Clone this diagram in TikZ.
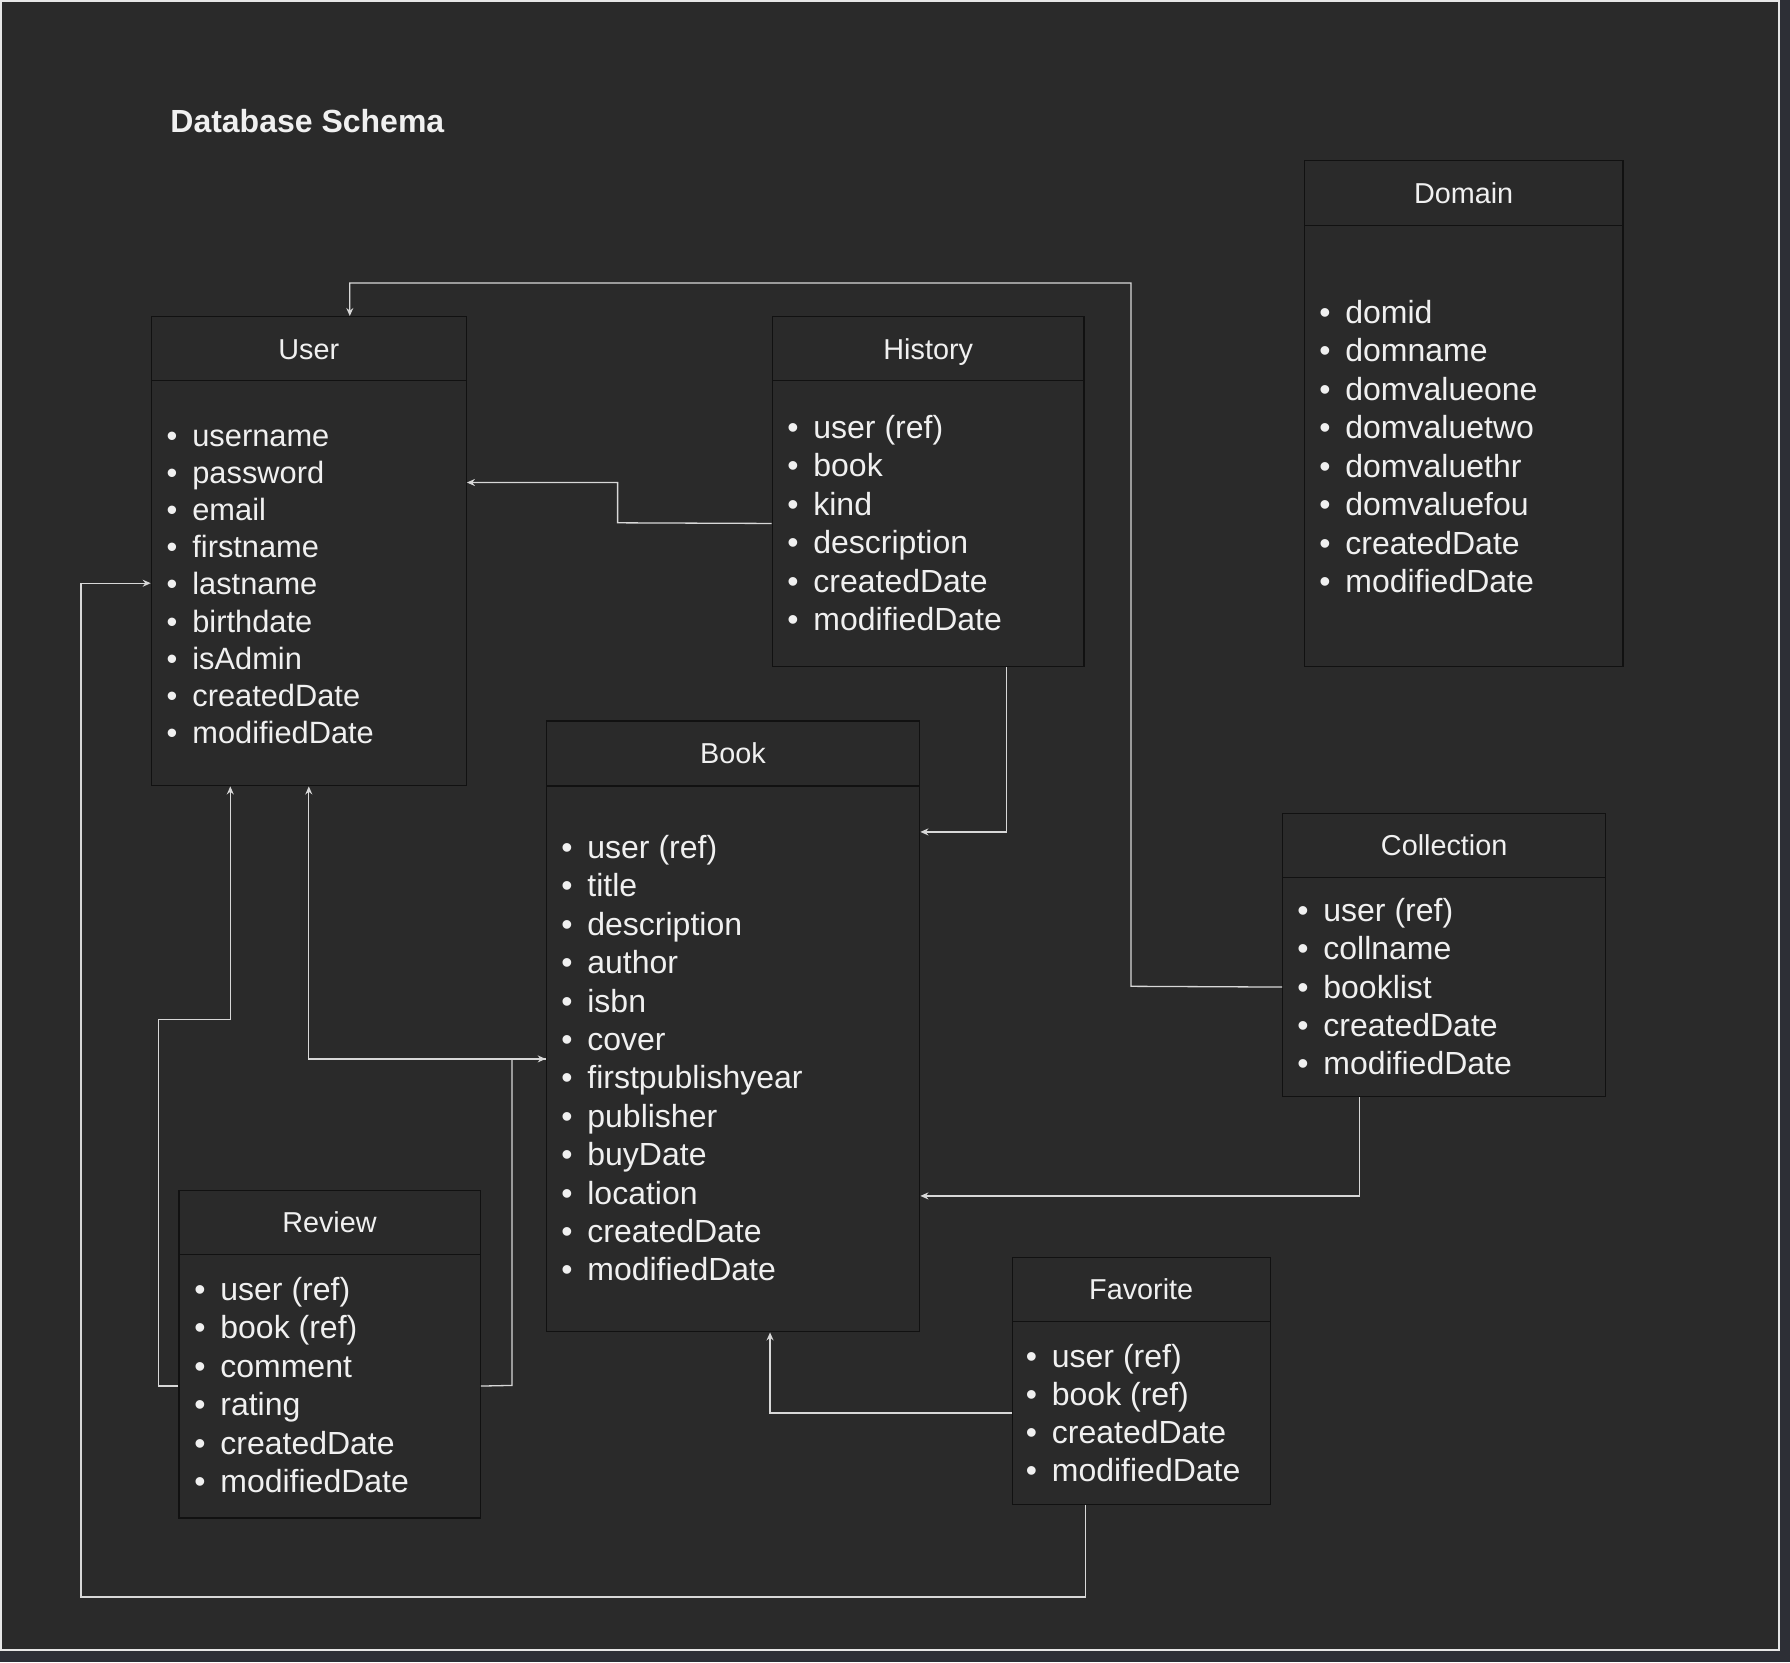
\documentclass[tikz,border=0pt]{standalone}
\usepackage{fontspec}
\setmainfont{Liberation Sans}
\usetikzlibrary{arrows.meta}

\definecolor{canvas}{HTML}{2A2A2A}
\definecolor{outside}{HTML}{2D2F36}
\definecolor{frameline}{HTML}{E6E6E6}
\definecolor{boxline}{HTML}{111111}
\definecolor{ink}{HTML}{F0F0F0}
\definecolor{wire}{HTML}{D8D8D8}

\newcommand\bul{\llap{•\hspace{7.45pt}}}

\begin{document}
\begin{tikzpicture}[x=0.5pt, y=-0.5pt,
    head/.style={draw=boxline, line width=0.7pt, fill=canvas, text=ink, inner sep=0pt,
                 anchor=north west, minimum height=32pt, text height=10.3pt, text depth=0pt,
                 font=\fontsize{14.4}{17}\selectfont},
    body/.style={draw=boxline, line width=0.7pt, fill=canvas, inner sep=0pt, anchor=north west},
    field/.style={text=ink, inner sep=0pt, anchor=base west, font=\fontsize{16}{19.2}\selectfont},
    conn/.style={draw=wire, line width=0.65pt, -{Stealth[length=4pt,width=3.5pt]}},
  ]
    \useasboundingbox (0,0) rectangle (1790,1662);
    \fill[outside] (0,0) rectangle (1790,1662);
    \fill[canvas] (0,0) rectangle (1779,1650);
    \draw[frameline, line width=0.75pt] (1,1) rectangle (1779,1650);

    \node[text=ink, anchor=base west, inner sep=0pt, font=\bfseries\fontsize{16}{19}\selectfont] (title) at (170,132.3) {Database Schema};

    % tables
    \node[body, minimum width=157.4pt, minimum height=202.5pt] (userb) at (150.7,380) {};
    \node[head, minimum width=157.4pt] (user) at (150.7,316) {User};
    \foreach \f [count=\i from 0] in {username, password, email, firstname, lastname, birthdate, isAdmin, createdDate, modifiedDate}
        \node[field, font=\fontsize{15.4}{18.5}\selectfont] at (192, 446.5+37.1*\i) {\bul\f};

    \node[body, minimum width=155.85pt, minimum height=142.75pt] (histb) at (771.7,380) {};
    \node[head, minimum width=155.85pt] (hist) at (771.7,316) {History};
    \foreach \f [count=\i from 0] in {{user (ref)}, book, kind, description, createdDate, modifiedDate}
        \node[field] at (813, 438.5+38.4*\i) {\bul\f};

    \node[body, minimum width=159.25pt, minimum height=220.25pt] (domb) at (1303.7,225) {};
    \node[head, minimum width=159.25pt, minimum height=32.5pt] (dom) at (1303.7,160) {Domain};
    \foreach \f [count=\i from 0] in {domid, domname, domvalueone, domvaluetwo, domvaluethr, domvaluefou, createdDate, modifiedDate}
        \node[field] at (1345, 323+38.5*\i) {\bul\f};

    \node[body, minimum width=186.65pt, minimum height=272.8pt] (bookb) at (545.7,785.4) {};
    \node[head, minimum width=186.65pt, minimum height=32.5pt] (book) at (545.7,720.3) {Book};
    \foreach \f [count=\i from 0] in {{user (ref)}, title, description, author, isbn, cover, firstpublishyear, publisher, buyDate, location, createdDate, modifiedDate}
        \node[field] at (587, 858.5+38.4*\i) {\bul\f};

    \node[body, minimum width=161.5pt, minimum height=109.65pt] (collb) at (1282,876.7) {};
    \node[head, minimum width=161.5pt] (coll) at (1282,812.8) {Collection};
    \foreach \f [count=\i from 0] in {{user (ref)}, collname, booklist, createdDate, modifiedDate}
        \node[field] at (1323, 921.5+38.3*\i) {\bul\f};

    \node[body, minimum width=150.7pt, minimum height=131.85pt] (revb) at (178.1,1253.5) {};
    \node[head, minimum width=150.7pt] (rev) at (178.1,1189.5) {Review};
    \foreach \f [count=\i from 0] in {{user (ref)}, {book (ref)}, comment, rating, createdDate, modifiedDate}
        \node[field] at (220, 1300.5+38.4*\i) {\bul\f};

    \node[body, minimum width=129pt, minimum height=91.35pt] (favb) at (1011.5,1320.8) {};
    \node[head, minimum width=129pt] (fav) at (1011.5,1256.9) {Favorite};
    \foreach \f [count=\i from 0] in {{user (ref)}, {book (ref)}, createdDate, modifiedDate}
        \node[field] at (1051.5, 1367+38.1*\i) {\bul\f};

    % links
    \draw[conn] (collb.west) -- (1131,986.3) -- (1131,283) -| ([xshift=20.5pt]user.north);
    \draw[conn] (histb.west) -- (617.6,522.8) |- ([yshift=50.35pt]userb.east);
    \draw[conn] ([xshift=39.15pt]histb.south) |- ([yshift=113.5pt]bookb.east);
    \draw[conn] ([xshift=-42.5pt]collb.south) |- ([yshift=-68.5pt]bookb.east);
    \draw[conn] (favb.west) -| ([xshift=18.5pt]bookb.south);
    \draw[conn] ([xshift=-28pt]favb.south) |- (81,1597) |- (userb.west);
    \draw[conn] (revb.west) -| (158.7,1019.4) -| ([xshift=-39.25pt]userb.south);
    \draw[conn] (bookb.west) -| (userb.south);
    \draw[conn] (revb.east) -- (512,1385.4) |- (bookb.west);

\end{tikzpicture}
\end{document}
